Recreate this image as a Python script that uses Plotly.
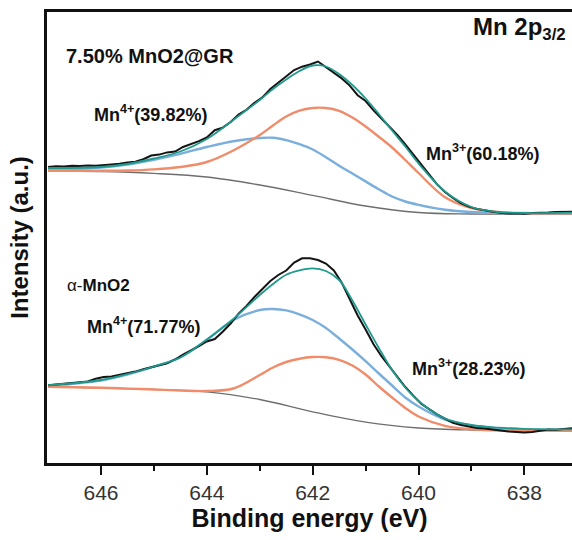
import plotly.graph_objects as go

# ---------------- data (binding energy in eV, intensity in a.u.) ----------------
energy_raw = [647.00, 646.85, 646.70, 646.55, 646.40, 646.25, 646.10, 645.95, 645.80, 645.65,
              645.50, 645.35, 645.20, 645.05, 644.90, 644.75, 644.60, 644.45, 644.30, 644.15,
              644.00, 643.85, 643.70, 643.55, 643.40, 643.25, 643.10, 642.95, 642.80, 642.65,
              642.50, 642.35, 642.20, 642.05, 641.90, 641.75, 641.60, 641.45, 641.30, 641.15,
              641.00, 640.85, 640.70, 640.55, 640.40, 640.25, 640.10, 639.95, 639.80, 639.65,
              639.50, 639.35, 639.20, 639.05, 638.90, 638.75, 638.60, 638.45, 638.30, 638.15,
              638.00, 637.85, 637.70, 637.55, 637.40, 637.25, 637.10]

gr_raw = [296.0, 296.8, 296.4, 297.2, 296.9, 297.6, 297.3, 298.2, 298.6, 299.2,
          300.6, 301.2, 303.8, 307.5, 308.4, 310.6, 311.5, 316.0, 318.6, 321.8,
          325.6, 332.8, 335.4, 341.0, 348.5, 353.2, 360.2, 365.6, 374.0, 380.5,
          387.0, 393.0, 396.3, 398.5, 401.5, 395.8, 390.8, 384.6, 377.4, 367.8,
          362.0, 352.6, 344.5, 336.4, 328.0, 318.5, 308.5, 297.5, 287.5, 278.6,
          271.0, 265.0, 260.0, 256.4, 254.1, 252.4, 251.2, 250.2, 249.6, 249.8,
          249.3, 249.9, 250.5, 250.4, 250.9, 251.0, 251.3]

am_raw = [77.8, 78.6, 78.9, 79.6, 80.6, 81.6, 84.2, 85.9, 86.5, 88.0,
          89.5, 91.4, 93.8, 96.1, 97.8, 99.6, 103.5, 108.5, 112.5, 116.8,
          121.5, 124.0, 131.2, 139.5, 149.4, 157.0, 166.0, 174.0, 182.0, 188.0,
          192.5, 200.5, 204.7, 204.8, 203.0, 199.4, 192.5, 180.2, 164.0, 147.5,
          133.5, 118.8, 106.8, 96.2, 85.8, 76.0, 67.4, 59.2, 53.8, 48.6,
          44.4, 40.2, 38.0, 36.4, 35.0, 34.6, 33.9, 32.6, 31.6, 31.2,
          30.6, 31.0, 32.0, 33.6, 33.3, 33.8, 34.7]

energy_fit = [647.0, 646.0, 645.5, 645.0, 644.5, 644.0, 643.5, 643.0, 642.75, 642.5,
              642.25, 642.0, 641.75, 641.5, 641.25, 641.0, 640.75, 640.5, 640.25, 640.0,
              639.5, 639.0, 638.5, 638.0, 637.1]

gr_fit = [295.0, 296.0, 299.0, 304.5, 311.5, 324.0, 343.0, 363.0, 374.0, 383.5,
          392.0, 397.5, 396.5, 389.0, 378.0, 364.5, 349.0, 332.5, 316.5, 299.5,
          271.5, 256.0, 251.0, 250.0, 250.3]
gr_mn4 = [293.0, 295.5, 298.5, 303.3, 309.2, 316.0, 321.8, 325.0, 325.2, 322.8,
          318.8, 313.5, 305.8, 297.3, 289.5, 281.6, 273.7, 266.5, 261.5, 258.2,
          253.3, 251.0, 250.1, 249.8, 249.7]
gr_mn3 = [292.3, 292.3, 292.5, 293.6, 296.0, 301.0, 312.5, 328.0, 337.5, 346.5,
          352.3, 355.0, 355.0, 352.2, 345.5, 336.5, 326.2, 315.5, 303.0, 290.0,
          265.8, 255.0, 251.0, 250.0, 249.7]

am_fit = [77.8, 83.0, 89.0, 96.5, 105.5, 123.5, 144.0, 168.0, 179.0, 188.3,
          192.6, 194.6, 192.0, 183.0, 162.5, 138.5, 115.0, 93.0, 75.5, 62.0,
          44.5, 38.0, 35.3, 34.2, 33.7]
am_mn4 = [77.2, 82.5, 88.5, 96.3, 105.8, 123.0, 143.0, 153.0, 154.0, 152.6,
          148.7, 143.0, 135.0, 124.5, 113.5, 101.8, 89.5, 77.5, 65.5, 56.5,
          43.5, 37.5, 34.8, 33.6, 33.0]
am_mn3 = [76.3, 75.3, 74.4, 73.5, 72.5, 72.0, 74.5, 88.0, 95.5, 101.0,
          104.3, 106.0, 105.8, 103.2, 97.5, 88.5, 76.5, 65.5, 55.0, 46.5,
          37.2, 33.8, 32.8, 32.4, 32.3]

energy_bg = [647.0, 646.0, 645.0, 644.0, 643.0, 642.0, 641.0, 640.0, 639.0, 637.1]
gr_bg = [292.0, 291.5, 289.6, 286.0, 278.0, 267.6, 257.0, 250.5, 249.0, 249.0]
am_bg = [76.3, 75.0, 73.6, 71.2, 63.5, 51.2, 40.8, 35.0, 33.0, 32.3]

# labels: (text, energy, intensity, size, xanchor)
labels = [
    ("<b>7.50% MnO2@GR</b>", 646.70, 407, 20, "left"),
    ("<b>Mn<sup>4+</sup>(39.82%)</b>", 646.17, 350, 18, "left"),
    ("<b>Mn<sup>3+</sup>(60.18%)</b>", 639.89, 311, 18, "left"),
    ("α-<b>MnO2</b>", 646.68, 178, 17, "left"),
    ("<b>Mn<sup>4+</sup>(71.77%)</b>", 646.31, 138, 18, "left"),
    ("<b>Mn<sup>3+</sup>(28.23%)</b>", 640.16, 96, 18, "left"),
    ("<b>Mn 2p<sub>3/2</sub></b>", 637.17, 435, 24, "right"),
]
x_ticks = [646, 644, 642, 640, 638]
x_minor = [645, 643, 641, 639, 637]

# ---------------- styling ----------------
C_BLACK = "#141414"
C_TEAL = "#1f9a8c"
C_BLUE = "#7aaedc"
C_ORANGE = "#f08c6a"
C_GREY = "#6e6e6e"
FONT = "Liberation Sans, Arial, sans-serif"

fig = go.Figure()

def add(x, y, color, width, shape="spline"):
    fig.add_trace(go.Scatter(x=x, y=y, mode="lines", line=dict(color=color, width=width, shape=shape),
                             hoverinfo="skip", showlegend=False))

for bg in (gr_bg, am_bg):
    add(energy_bg, bg, C_GREY, 1.3)
for comp in (gr_mn4, am_mn4):
    add(energy_fit, comp, C_BLUE, 2.4)
for comp in (gr_mn3, am_mn3):
    add(energy_fit, comp, C_ORANGE, 2.4)
for raw in (gr_raw, am_raw):
    add(energy_raw, raw, C_BLACK, 2.0, "linear")
for fit in (gr_fit, am_fit):
    add(energy_fit, fit, C_TEAL, 1.8)

for text, ex, iy, size, anchor in labels:
    fig.add_annotation(x=ex, y=iy, xref="x", yref="y", text=text,
                       showarrow=False, xanchor=anchor, yanchor="middle",
                       font=dict(family=FONT, size=size, color="#111111"))

fig.update_layout(
    width=572, height=540,
    margin=dict(l=47, r=0, t=12, b=77, autoexpand=False),
    paper_bgcolor="white", plot_bgcolor="white",
    font=dict(family=FONT, color="#222222"),
)
fig.update_xaxes(
    range=[647.02, 637.1], showgrid=False, zeroline=False, automargin=False,
    showline=True, linecolor="#111111", linewidth=2.5, mirror=True,
    tickmode="array", tickvals=x_ticks, ticks="outside", ticklen=9, tickwidth=2, tickcolor="#111111",
    minor=dict(tickmode="array", tickvals=x_minor, ticks="outside", ticklen=5,
               tickwidth=2, tickcolor="#111111"),
    tickfont=dict(size=21, color="#333333", family=FONT),
    title=dict(text="<b>Binding energy (eV)</b>", font=dict(size=25, color="#111111", family=FONT), standoff=5),
)
fig.update_yaxes(
    range=[0, 451], showgrid=False, zeroline=False, showticklabels=False, ticks="", automargin=False,
    showline=True, linecolor="#111111", linewidth=2.5, mirror=False,
    title=dict(text="<b>Intensity (a.u.)</b>", font=dict(size=24, color="#111111", family=FONT), standoff=9),
)

fig.write_html("out.html", config={"displayModeBar": False},
               post_script="document.body.style.margin='0';document.body.style.overflow='hidden';")
